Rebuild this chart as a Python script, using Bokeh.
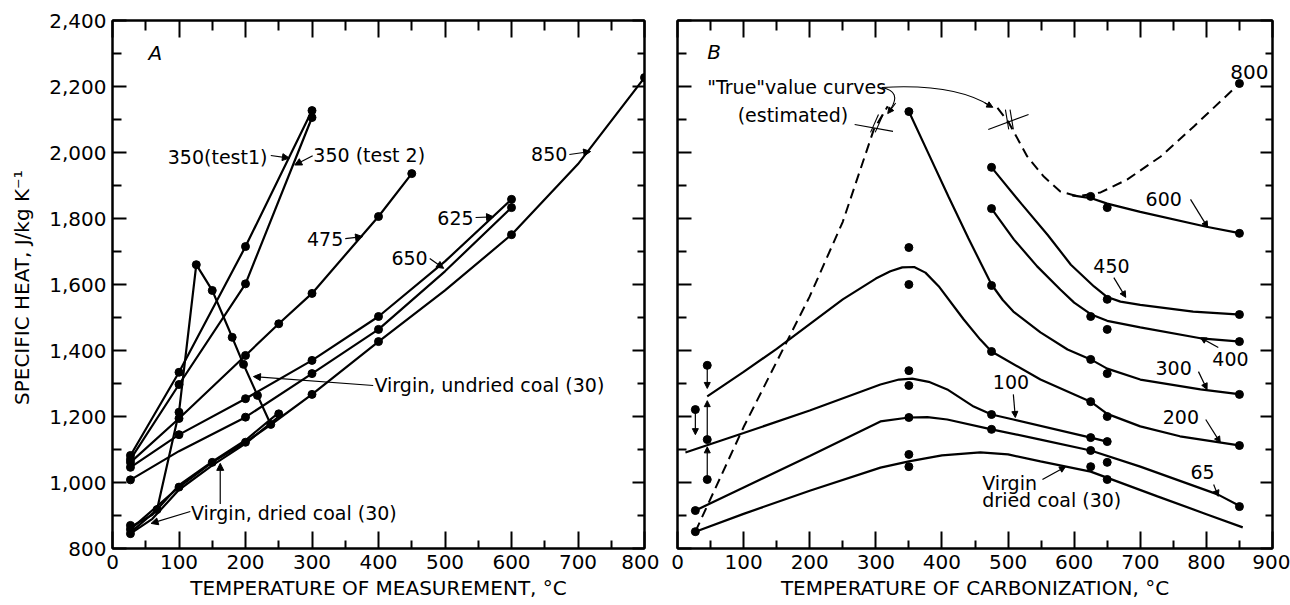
from bokeh.plotting import figure
from bokeh.layouts import row
from bokeh.models import (Range1d, LinearAxis, FixedTicker, NumeralTickFormatter,
                          CustomJSTickFormatter, Arrow, NormalHead, ColumnDataSource)
from bokeh.core.properties import value
from bokeh.embed import file_html
from bokeh.resources import INLINE

FONT = "DejaVu Sans"

# ---------------- Panel A: temperature of measurement ----------------
A_xticks = [0, 100, 200, 300, 400, 500, 600, 700, 800]
A_xminor = [50, 150, 250, 350, 450, 550, 650, 750]
Y_ticks = [800, 1000, 1200, 1400, 1600, 1800, 2000, 2200, 2400]
Y_minor = [900, 1100, 1300, 1500, 1700, 1900, 2100, 2300]

a350t1_T = [27, 100, 200, 300]
a350t1_C = [1082, 1334, 1715, 2127]
a350t2_T = [27, 100, 200, 300]
a350t2_C = [1070, 1297, 1602, 2106]
a475_T = [27, 100, 200, 250, 300, 400, 450]
a475_C = [1061, 1194, 1385, 1481, 1573, 1806, 1936]
a625_T = [27, 100, 200, 300, 400, 500, 600]
a625_C = [1046, 1145, 1254, 1370, 1503, 1670, 1858]
a650_T = [27, 100, 200, 300, 400, 500, 600]
a650_C = [1008, 1095, 1198, 1330, 1464, 1640, 1833]
a850_T = [27, 100, 150, 200, 240, 300, 400, 500, 600, 700, 800]
a850_C = [858, 986, 1061, 1122, 1178, 1267, 1427, 1582, 1751, 1965, 2227]
aund_T = [27, 67, 100, 126, 150, 180, 197, 218, 238]
aund_C = [848, 918, 1213, 1660, 1582, 1440, 1358, 1264, 1176]
adryA_T = [27, 60, 100, 150, 200, 250]
adryA_C = [845, 890, 978, 1052, 1118, 1200]
adryB_T = [27, 60, 100, 150, 200, 250]
adryB_C = [865, 902, 992, 1063, 1128, 1212]

A_dot_T = [27, 27, 27, 27, 27, 27, 27, 27,
           67,
           100, 100, 100, 100, 100, 100,
           126, 150, 150, 180, 197,
           200, 200, 200, 200, 200, 200,
           218, 238, 250, 250,
           300, 300, 300, 300, 300, 300,
           400, 400, 400, 400,
           450, 600, 600, 600, 800]
A_dot_C = [1082, 1070, 1061, 1046, 1008, 870, 858, 845,
           918,
           1334, 1297, 1213, 1194, 1145, 986,
           1660, 1582, 1061, 1440, 1358,
           1715, 1602, 1385, 1254, 1198, 1122,
           1264, 1176, 1481, 1208,
           2127, 2106, 1573, 1370, 1330, 1267,
           1806, 1503, 1464, 1427,
           1936, 1858, 1833, 1751, 2227]

# ---------------- Panel B: temperature of carbonization ----------------
B_xticks = [0, 100, 200, 300, 400, 500, 600, 700, 800, 900]
B_xminor = [50, 150, 250, 350, 450, 550, 650, 750, 850]

bv30_T = [27, 100, 200, 307, 350, 400, 458, 500, 549, 625, 726, 800, 855]
bv30_C = [851, 905, 975, 1045, 1064, 1082, 1091, 1085, 1064, 1033, 958, 904, 864]
b65_T = [27, 100, 200, 307, 350, 378, 408, 475, 549, 625, 700, 817, 852]
b65_C = [915, 985, 1080, 1185, 1197, 1198, 1191, 1161, 1130, 1097, 1048, 964, 927]
b100_T = [12, 100, 200, 307, 335, 355, 380, 408, 448, 475, 508, 625, 650]
b100_C = [1091, 1150, 1218, 1297, 1312, 1315, 1305, 1282, 1230, 1206, 1191, 1136, 1124]
b200_T = [45, 100, 150, 200, 250, 300, 322, 340, 358, 375, 395, 433, 458, 475, 549, 625, 650, 700, 760, 852]
b200_C = [1261, 1335, 1405, 1480, 1555, 1618, 1640, 1652, 1653, 1636, 1595, 1494, 1433, 1397, 1312, 1245, 1208, 1170, 1140, 1112]
b300_T = [350, 380, 410, 440, 460, 475, 492, 508, 549, 590, 625, 650, 700, 791, 852]
b300_C = [2124, 1995, 1866, 1740, 1660, 1600, 1553, 1518, 1455, 1403, 1373, 1345, 1312, 1282, 1267]
b400_T = [475, 509, 544, 579, 600, 625, 650, 700, 791, 852]
b400_C = [1830, 1736, 1655, 1585, 1545, 1510, 1490, 1470, 1437, 1427]
b450_T = [475, 520, 560, 595, 630, 650, 670, 700, 780, 852]
b450_C = [1955, 1845, 1750, 1660, 1594, 1562, 1548, 1538, 1518, 1509]
b600_T = [597, 625, 650, 700, 800, 852]
b600_C = [1870, 1862, 1845, 1820, 1775, 1755]
b800_T = [484, 501, 529, 554, 579, 605, 640, 680, 731, 781, 850]
b800_C = [2135, 2091, 1988, 1927, 1882, 1867, 1879, 1918, 1988, 2079, 2209]
btrue_T = [27, 100, 200, 250, 297, 318]
btrue_C = [851, 1168, 1564, 1790, 2070, 2140]

B_dot_T = [27, 27, 27, 45, 45, 45,
           350, 350, 350, 350, 350, 350, 350, 350,
           475, 475, 475, 475, 475, 475,
           625, 625, 625, 625, 625, 625, 625,
           650, 650, 650, 650, 650, 650, 650, 650,
           850, 850, 850, 850, 850, 850, 850]
B_dot_C = [1221, 915, 851, 1355, 1130, 1009,
           2124, 1712, 1600, 1339, 1294, 1197, 1085, 1048,
           1955, 1830, 1597, 1397, 1206, 1161,
           1867, 1503, 1373, 1245, 1136, 1097, 1048,
           1833, 1555, 1464, 1330, 1200, 1124, 1061, 1009,
           2209, 1755, 1509, 1427, 1267, 1112, 927]

# ---------------- annotation texts ----------------
A_lab_text = ["350(test1)", "475", "625", "650", "850"]
A_lab_T = [233, 347, 543, 474, 684]
A_lab_C = [1985, 1739, 1803, 1679, 1994]
A_lab2_text = ["350 (test 2)", "Virgin, undried coal (30)", "Virgin, dried coal (30)"]
A_lab2_T = [302, 394, 118]
A_lab2_C = [1991, 1294, 909]
A_arr = dict(x0=[238, 301, 350, 546, 477, 687, 392, 117, 162],
             y0=[1991, 1990, 1739, 1803, 1679, 1994, 1294, 912, 935],
             x1=[266, 274, 376, 573, 498, 719, 212, 58, 162],
             y1=[1983, 1962, 1745, 1805, 1649, 2003, 1321, 876, 1058])

B_lab_text = ["800"]
B_lab_T = [894]
B_lab_C = [2245]
B_lab2_text = ['"True"value curves', "(estimated)", "600", "450", "400", "300", "200",
               "100", "65", "Virgin", "dried coal (30)"]
B_lab2_T = [45, 91, 708, 629, 809, 723, 734, 477, 776, 461, 461]
B_lab2_C = [2197, 2115, 1858, 1655, 1373, 1348, 1197, 1306, 1033, 1000, 948]
B_arr = dict(x0=[27, 45, 45, 45, 776, 660, 818, 788, 799, 508, 811, 552, 465, 330],
             y0=[1221, 1355, 1140, 1015, 1858, 1621, 1409, 1336, 1191, 1267, 994, 1009, 2150, 2150],
             x1=[27, 45, 45, 45, 802, 678, 791, 801, 821, 511, 818, 587, 477, 318],
             y1=[1145, 1285, 1248, 1108, 1773, 1561, 1439, 1282, 1121, 1197, 958, 1048, 2137, 2118])
B_curve_leaders = dict(x0=[309, 309], y0=[2197, 2197], x1=[474, 322], y1=[2140, 2130],
                       cx=[420, 340], cy=[2210, 2185])
B_breaks = dict(x0=[268, 292, 299, 470, 496, 503],
                y0=[2085, 2061, 2061, 2070, 2130, 2130],
                x1=[326, 304, 311, 531, 501, 508],
                y1=[2064, 2115, 2115, 2115, 2070, 2070])

EMPTY = CustomJSTickFormatter(code="return '';")


def style_axis(ax, ticks, minor, major_in, minor_in, labels):
    ax.ticker = FixedTicker(ticks=ticks, minor_ticks=minor)
    ax.major_tick_in = major_in
    ax.major_tick_out = 0
    ax.minor_tick_in = minor_in
    ax.minor_tick_out = 0
    ax.axis_line_color = "black"
    ax.axis_line_width = 2
    ax.major_tick_line_color = "black"
    ax.major_tick_line_width = 2
    ax.minor_tick_line_color = "black"
    ax.minor_tick_line_width = 2
    ax.major_label_text_font = FONT
    ax.major_label_text_color = "black"
    if labels:
        ax.major_label_text_font_size = "20px"
        ax.major_label_standoff = 6
        ax.formatter = NumeralTickFormatter(format="0,0")
    else:
        ax.major_label_text_font_size = "10px"
        ax.major_label_standoff = 0
        ax.formatter = EMPTY


def make_fig(xmax, width, mbl, mbr, xticks, xminor, xlabel, ylabels):
    p = figure(width=width, height=605, x_range=Range1d(0, xmax), y_range=Range1d(800, 2400),
               output_backend="svg", toolbar_location=None,
               min_border_left=mbl, min_border_right=mbr, min_border_top=20, min_border_bottom=57)
    p.grid.grid_line_color = None
    p.outline_line_color = "black"
    p.outline_line_width = 2
    p.background_fill_color = "white"
    p.border_fill_color = "white"
    xa = p.xaxis[0]
    style_axis(xa, xticks, xminor, 17, 8, True)
    xa.axis_label = xlabel
    xa.axis_label_text_font = FONT
    xa.axis_label_text_font_size = "20px"
    xa.axis_label_text_font_style = "normal"
    xa.axis_label_text_color = "black"
    xa.axis_label_standoff = 4
    ya = p.yaxis[0]
    style_axis(ya, Y_ticks, Y_minor, 14, 9, ylabels)
    if ylabels:
        ya.axis_label = "SPECIFIC HEAT,  J/kg K\u207b\u00b9"
        ya.axis_label_text_font = FONT
        ya.axis_label_text_font_size = "20px"
        ya.axis_label_text_font_style = "normal"
        ya.axis_label_text_color = "black"
        ya.axis_label_standoff = 12
    top = LinearAxis()
    style_axis(top, xticks, xminor, 17, 10, False)
    p.add_layout(top, "above")
    right = LinearAxis()
    style_axis(right, Y_ticks, Y_minor, 12, 7, False)
    p.add_layout(right, "right")
    return p


def texts(p, xs, ys, txt, align, size="19px", style="normal"):
    p.text(x=xs, y=ys, text=txt, text_font=value(FONT), text_font_size=value(size),
           text_align=align, text_baseline="middle", text_color="black", text_font_style=style)


def arrows(p, d, size=7):
    src = ColumnDataSource(d)
    p.add_layout(Arrow(end=NormalHead(size=size, line_color="black", fill_color="black", line_width=1),
                       x_start="x0", y_start="y0", x_end="x1", y_end="y1", source=src,
                       line_color="black", line_width=1.2))


LW = 2.2

# ---- Panel A ----
pA = make_fig(800, 659, 112, 15, A_xticks, A_xminor, "TEMPERATURE OF MEASUREMENT, \u00b0C", True)
for T, C in [(a350t1_T, a350t1_C), (a350t2_T, a350t2_C), (a475_T, a475_C), (a625_T, a625_C),
             (a650_T, a650_C), (a850_T, a850_C), (aund_T, aund_C), (adryA_T, adryA_C),
             (adryB_T, adryB_C)]:
    pA.line(T, C, line_color="black", line_width=LW)
pA.scatter(A_dot_T, A_dot_C, size=8, color="black")
texts(pA, A_lab_T, A_lab_C, A_lab_text, "right")
texts(pA, A_lab2_T, A_lab2_C, A_lab2_text, "left")
texts(pA, [54], [2303], ["A"], "left", "20px", "italic")
arrows(pA, A_arr)

# ---- Panel B ----
pB = make_fig(900, 631, 18, 18, B_xticks, B_xminor, "TEMPERATURE OF CARBONIZATION, \u00b0C", False)
for T, C in [(bv30_T, bv30_C), (b65_T, b65_C), (b100_T, b100_C), (b200_T, b200_C),
             (b300_T, b300_C), (b400_T, b400_C), (b450_T, b450_C), (b600_T, b600_C)]:
    pB.line(T, C, line_color="black", line_width=LW)
for T, C in [(b800_T, b800_C), (btrue_T, btrue_C)]:
    pB.line(T, C, line_color="black", line_width=2, line_dash="10 6")
pB.scatter(B_dot_T, B_dot_C, size=8, color="black")
texts(pB, B_lab_T, B_lab_C, B_lab_text, "right", "20px")
texts(pB, B_lab2_T, B_lab2_C, B_lab2_text, "left")
texts(pB, [45], [2306], ["B"], "left", "20px", "italic")
pB.quadratic(x0=B_curve_leaders["x0"], y0=B_curve_leaders["y0"], x1=B_curve_leaders["x1"],
             y1=B_curve_leaders["y1"], cx=B_curve_leaders["cx"], cy=B_curve_leaders["cy"],
             line_color="black", line_width=1.1)
pB.segment(x0=B_breaks["x0"], y0=B_breaks["y0"], x1=B_breaks["x1"], y1=B_breaks["y1"],
           line_color="black", line_width=1.1)
arrows(pB, B_arr, 6)

layout = row(pA, pB)
open("out.html", "w").write(file_html(layout, INLINE))
